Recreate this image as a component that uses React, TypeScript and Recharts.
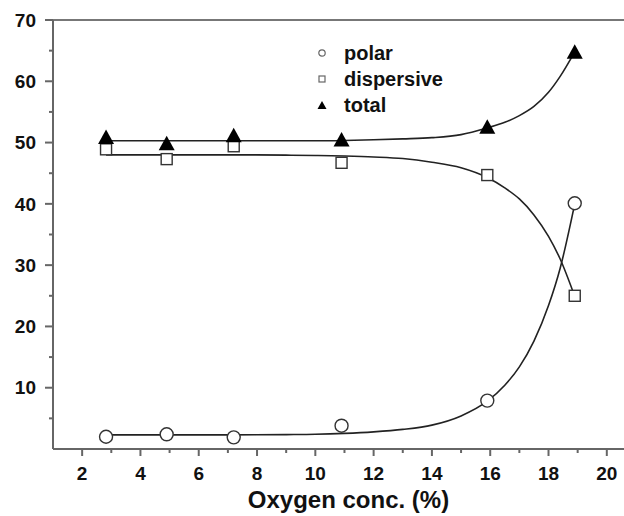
import React from 'react'
import {
  ComposedChart,
  Line,
  Scatter,
  XAxis,
  YAxis,
  ReferenceLine,
  Legend,
} from 'recharts'

// measured points
const oxygen = [2.82, 4.9, 7.2, 10.9, 15.9, 18.9]
const polar = [2.0, 2.4, 1.9, 3.8, 7.9, 40.1]
const dispersive = [48.9, 47.3, 49.4, 46.7, 44.7, 25.0]
const total = [50.9, 49.9, 51.2, 50.5, 52.6, 64.8]

// fitted curves
const fitX = [2.82, 5, 7, 9, 10, 11, 12, 13, 14, 15, 15.9, 16.5, 17, 17.5, 18, 18.4, 18.9]
const polarFit = [2.3, 2.3, 2.3, 2.35, 2.4, 2.55, 2.8, 3.2, 3.9, 5.4, 7.8, 10.4, 13.4, 17.6, 23.4, 29.5, 40.0]
const dispersiveFit = [48.0, 48.0, 48.0, 47.95, 47.9, 47.8, 47.65, 47.4, 46.8, 45.9, 44.3, 42.6, 40.8, 38.2, 34.7, 31.0, 24.9]
const totalFit = [50.3, 50.3, 50.3, 50.3, 50.3, 50.35, 50.45, 50.6, 50.8, 51.3, 52.4, 53.3, 54.4, 55.9, 58.2, 60.8, 64.8]

const xTicks = [2, 3, 4, 5, 6, 7, 8, 9, 10, 11, 12, 13, 14, 15, 16, 17, 18, 19, 20]
const yTicks = [5, 10, 15, 20, 25, 30, 35, 40, 45, 50, 55, 60, 65, 70]
const seriesNames = ['polar', 'dispersive', 'total']

const FONT = '"Liberation Sans", Arial, Helvetica, sans-serif'
const AXIS = '#666'
const INK = '#111'

const toPoints = (xs: number[], ys: number[]) => xs.map((x, i) => ({ x, y: ys[i] }))

const polarPts = toPoints(oxygen, polar)
const dispersivePts = toPoints(oxygen, dispersive)
const totalPts = toPoints(oxygen, total)
const polarLine = toPoints(fitX, polarFit)
const dispersiveLine = toPoints(fitX, dispersiveFit)
const totalLine = toPoints(fitX, totalFit)

const Circle = ({ cx, cy }: any) => (
  <circle cx={cx} cy={cy} r={6.5} fill="#fff" stroke="#333" strokeWidth={1.4} />
)
const Square = ({ cx, cy }: any) => (
  <rect x={cx - 5.5} y={cy - 5.5} width={11} height={11} fill="#fff" stroke="#333" strokeWidth={1.4} />
)
const Triangle = ({ cx, cy }: any) => (
  <polygon points={`${cx},${cy - 7.5} ${cx - 8},${cy + 7} ${cx + 8},${cy + 7}`} fill="#000" />
)

function YTick({ x, y, payload }: any) {
  const major = payload.value % 10 === 0
  const ax = x + 8 + 9
  return (
    <g>
      <line x1={ax} x2={ax - (major ? 8 : 4)} y1={y} y2={y} stroke={AXIS} strokeWidth={2} />
      {major && (
        <text x={x} y={y} dy="0.355em" textAnchor="end" fontFamily={FONT} fontWeight="bold" fontSize={19} fill={INK}>
          {payload.value}
        </text>
      )}
    </g>
  )
}

function XTick({ x, y, payload }: any) {
  const major = payload.value % 2 === 0
  const ay = y - 7 - 11
  return (
    <g>
      <line x1={x} x2={x} y1={ay} y2={ay + (major ? 7 : 4)} stroke={AXIS} strokeWidth={2} />
      {major && (
        <text x={x} y={y} dy="0.71em" textAnchor="middle" fontFamily={FONT} fontWeight="bold" fontSize={19} fill={INK}>
          {payload.value}
        </text>
      )}
    </g>
  )
}

function XTitle({ viewBox }: any) {
  return (
    <text
      x={viewBox.x + viewBox.width / 2 + 10}
      y={viewBox.y + viewBox.height - 8}
      textAnchor="middle"
      fontFamily={FONT}
      fontWeight="bold"
      fontSize={24}
      fill={INK}
    >
      Oxygen conc. (%)
    </text>
  )
}

function LegendMarker({ name }: { name: string }) {
  if (name === 'polar') return <circle cx={8} cy={13} r={3.2} fill="#fff" stroke="#666" strokeWidth={1.2} />
  if (name === 'dispersive') return <rect x={5} y={10} width={6} height={6} fill="#fff" stroke="#666" strokeWidth={1.2} />
  return <polygon points="8,9 3.5,17 12.5,17" fill="#000" />
}

function renderLegend() {
  return (
    <div style={{ fontFamily: FONT, fontWeight: 'bold', fontSize: 20, lineHeight: '26px', color: INK }}>
      {seriesNames.map(name => (
        <div key={name} style={{ display: 'flex', alignItems: 'center', height: 26 }}>
          <svg width={30} height={26}>
            <LegendMarker name={name} />
          </svg>
          <span>{name}</span>
        </div>
      ))}
    </div>
  )
}

export default function App() {
  return (
    <div style={{ position: 'absolute', left: 0, top: 0, width: 624, height: 516, background: '#fff' }}>
      <ComposedChart width={624} height={516} margin={{ top: 20, right: 0, bottom: 0, left: 0 }}>
        <XAxis
          type="number"
          dataKey="x"
          domain={[1, 20.59]}
          ticks={xTicks}
          interval={0}
          height={67}
          tickSize={7}
          tickMargin={11}
          tickLine={false}
          tick={<XTick />}
          axisLine={{ stroke: AXIS, strokeWidth: 2 }}
          label={XTitle}
        />
        <YAxis
          type="number"
          domain={[0, 70]}
          ticks={yTicks}
          interval={0}
          width={53}
          tickSize={8}
          tickMargin={9}
          tickLine={false}
          tick={<YTick />}
          axisLine={{ stroke: AXIS, strokeWidth: 2 }}
        />
        <ReferenceLine y={70} stroke="#777" strokeWidth={2} />
        <Line data={polarLine} dataKey="y" type="monotone" stroke="#222" strokeWidth={1.6} dot={false} legendType="none" isAnimationActive={false} />
        <Line data={dispersiveLine} dataKey="y" type="monotone" stroke="#222" strokeWidth={1.6} dot={false} legendType="none" isAnimationActive={false} />
        <Line data={totalLine} dataKey="y" type="monotone" stroke="#222" strokeWidth={1.6} dot={false} legendType="none" isAnimationActive={false} />
        <Scatter name="dispersive" data={dispersivePts} dataKey="y" shape={Square} isAnimationActive={false} />
        <Scatter name="polar" data={polarPts} dataKey="y" shape={Circle} isAnimationActive={false} />
        <Scatter name="total" data={totalPts} dataKey="y" shape={Triangle} isAnimationActive={false} />
        <Legend
          layout="vertical"
          align="center"
          verticalAlign="middle"
          content={renderLegend}
          wrapperStyle={{ left: 314, top: 40, width: 'auto' }}
        />
      </ComposedChart>
    </div>
  )
}
